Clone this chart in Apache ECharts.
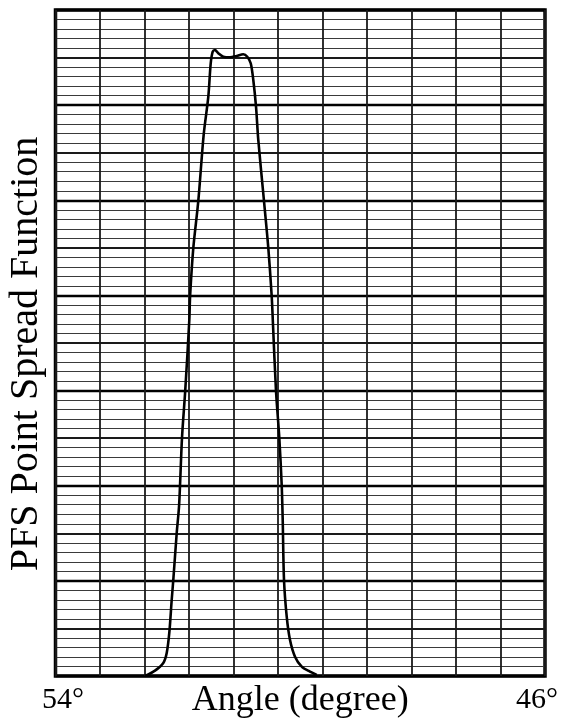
<!DOCTYPE html>
<html>
<head>
<meta charset="utf-8">
<script src="https://cdn.jsdelivr.net/npm/echarts@6/dist/echarts.min.js"></script>
<style>
html,body{margin:0;padding:0;background:#fff;}
#chart{width:561px;height:724px;}
</style>
</head>
<body>
<div id="chart"></div>
<script>
// Angle axis in chart-paper columns (0 = 54°, 11 = 46°)
var angleCols = [2.011, 2.236, 2.422, 2.499, 2.557, 2.611, 2.647, 2.724, 2.778, 2.843, 2.915, 3.007, 3.025, 3.097, 3.209, 3.330, 3.434, 3.488, 3.533, 3.584, 3.658, 3.771, 3.921, 4.072, 4.220, 4.310, 4.387, 4.445, 4.506, 4.557, 4.685, 4.782, 4.858, 4.888, 4.955, 5.029, 5.083, 5.106, 5.135, 5.196, 5.270, 5.382, 5.533, 5.719, 5.870];
// PSF value in chart-paper minor divisions (0..70)
var psfValues = [0, 0.56, 1.37, 2.42, 4.52, 7.99, 10.09, 15.03, 17.97, 25.05, 29.96, 37.42, 39.94, 44.99, 49.93, 56.9, 60.89, 64.40, 65.62, 65.80, 65.45, 65.09, 65.03, 65.17, 65.35, 65.09, 64.40, 62.64, 59.84, 56.34, 49.93, 44.99, 39.94, 36.89, 29.96, 25.05, 20.08, 16.40, 10.09, 6.23, 3.78, 2.03, 0.98, 0.45, 0.11];
var tickLabels = ['54°', '46°'];
var xTitle = 'Angle (degree)';
var yTitle = 'PFS Point Spread Function';

var pts = angleCols.map(function (x, i) { return [x, psfValues[i]]; });
var serif = 'Liberation Serif';

function hAxis(interval, color, width, extra) {
  var a = {
    type: 'value', min: 0, max: 70, interval: interval,
    axisLine: {show: false}, axisTick: {show: false}, axisLabel: {show: false},
    splitLine: {show: true, lineStyle: {color: color, width: width}}
  };
  for (var k in extra) a[k] = extra[k];
  return a;
}

var chart = echarts.init(document.getElementById('chart'), null, {renderer: 'canvas'});
chart.setOption({
  backgroundColor: '#fff',
  animation: false,
  grid: {left: 55.5, right: 16, top: 10, bottom: 48, show: true, borderColor: '#000', borderWidth: 3.5,
    backgroundColor: 'transparent', containLabel: false, outerBoundsMode: 'none'},
  xAxis: {
    type: 'value', min: 0, max: 11, interval: 1,
    axisLine: {show: false}, axisTick: {show: false},
    splitLine: {show: true, lineStyle: {color: '#1a1a1a', width: 1.8}},
    axisLabel: {
      show: true,
      customValues: [0, 11],
      margin: 9,
      formatter: function (v) { return v === 0 ? '{a|' + tickLabels[0] + '}' : '{b|' + tickLabels[1] + '}'; },
      rich: {
        a: {fontFamily: serif, fontSize: 30, color: '#000', padding: [0, 0, 0, 15]},
        b: {fontFamily: serif, fontSize: 30, color: '#000', padding: [0, 16, 0, 0]}
      }
    },
    name: xTitle, nameLocation: 'middle', nameGap: 7, nameMoveOverlap: false,
    nameTextStyle: {fontFamily: serif, fontSize: 36, color: '#000', verticalAlign: 'top'}
  },
  yAxis: [
    hAxis(1, '#3a3a3a', 1.2, {name: yTitle, nameLocation: 'middle', nameGap: 9, nameRotate: 90, nameMoveOverlap: false,
      nameTextStyle: {fontFamily: serif, fontSize: 40, color: '#000', padding: [0, 22, 0, 0]}}),
    hAxis(5, '#1a1a1a', 1.8, {}),
    hAxis(10, '#000', 2.3, {})
  ],
  series: [{
    type: 'line', xAxisIndex: 0, yAxisIndex: 0, data: pts, smooth: 0.3,
    showSymbol: false, symbol: 'none', z: 10,
    lineStyle: {color: '#000', width: 2.6}
  }]
});
</script>
</body>
</html>
